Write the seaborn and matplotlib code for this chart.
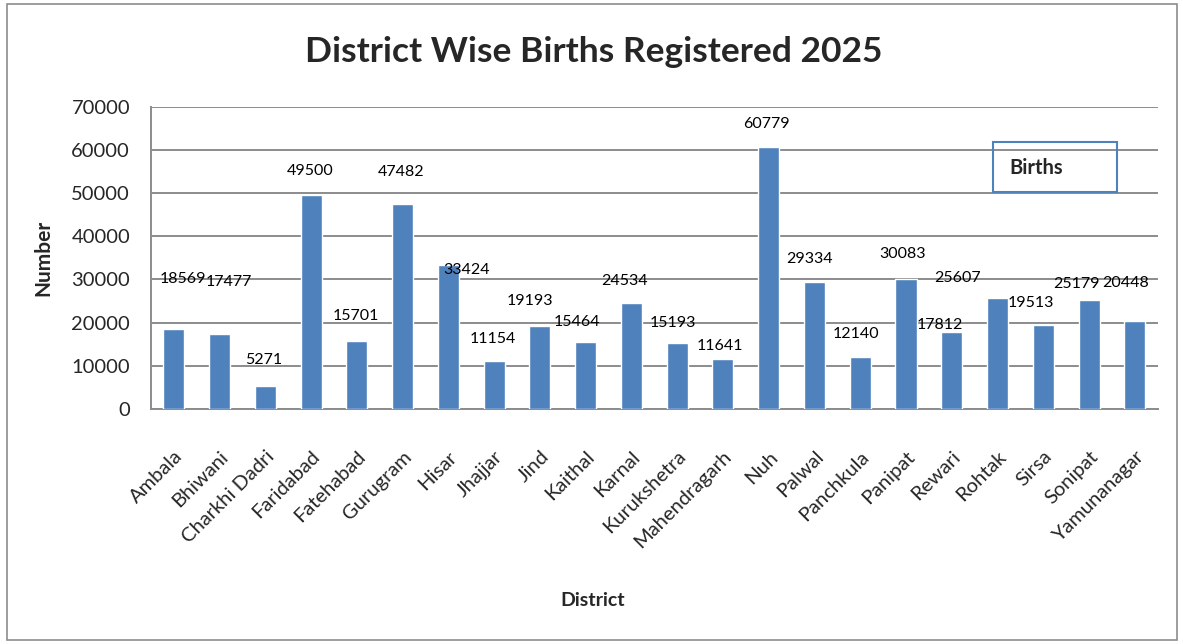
import matplotlib
matplotlib.use("Agg")
import matplotlib.pyplot as plt
import seaborn as sns
import pandas as pd
from matplotlib.patches import Rectangle

districts = ["Ambala", "Bhiwani", "Charkhi Dadri", "Faridabad", "Fatehabad", "Gurugram",
             "Hisar", "Jhajjar", "Jind", "Kaithal", "Karnal", "Kurukshetra", "Mahendragarh",
             "Nuh", "Palwal", "Panchkula", "Panipat", "Rewari", "Rohtak", "Sirsa", "Sonipat",
             "Yamunanagar"]
births = [18569, 17477, 5271, 49500, 15701, 47482, 33424, 11154, 19193, 15464, 24534,
          15193, 11641, 60779, 29334, 12140, 30083, 17812, 25607, 19513, 25179, 20448]
y_ticks = [0, 10000, 20000, 30000, 40000, 50000, 60000, 70000]

# label offsets in pixels (dx, dy above bar top), as placed in the reference
label_dx = [9, 9, -2, -1, -1, -2, 18, -1, -10, -9, -7, -4, -3, -2, -5, -4, -3, -12, -40, -12, -13, -9]
label_dy = [50, 52, 26, 24, 25, 32, -5, 22, 25, 20, 22, 20, 13, 23, 23, 23, 25, 7, 20, 22, 16, 38]

sns.set_theme(style="white")
plt.rcParams['font.family'] = ['Lato', 'DejaVu Sans']

df = pd.DataFrame({"District": districts, "Births": births})

fig = plt.figure(figsize=(11.83, 6.44), dpi=100)
ax = fig.add_axes([0.1276, 0.365, 0.851, 0.469])

sns.barplot(data=df, x="District", y="Births", color="#4F81BD", width=0.46,
            saturation=1, ax=ax, zorder=3)

ax.set_ylim(0, 70000)
ax.set_yticks(y_ticks)
ax.set_yticklabels([str(t) for t in y_ticks], fontsize=14.5)
ax.set_xlim(-0.5, len(districts) - 0.5)
ax.set_xticks(range(len(districts)))
ax.set_xticklabels(districts, rotation=45, ha="right", rotation_mode="anchor", fontsize=14.5)
ax.tick_params(axis="x", pad=28, length=0)
ax.tick_params(axis="y", pad=15, length=0)

ax.yaxis.grid(True, color="#8C8C8C", linewidth=1.4, zorder=0)
ax.set_axisbelow(True)
for s in ["top", "right"]:
    ax.spines[s].set_visible(False)
for s in ["left", "bottom"]:
    ax.spines[s].set_color("#8C8C8C")
    ax.spines[s].set_linewidth(1.4)

ax.set_xlabel("District", fontsize=14, fontweight="bold")
ax.set_ylabel("Number", fontsize=15, fontweight="bold")
ax.xaxis.set_label_coords(0.439, -0.607)
ax.yaxis.set_label_coords(-0.097, 0.5)

for i, v in enumerate(births):
    ax.annotate(str(v), xy=(i, v), xytext=(label_dx[i], label_dy[i]),
                textcoords="offset pixels", ha="center", va="center", fontsize=11.5,
                color="black")

fig.text(0.5015, 0.92, "District Wise Births Registered 2025", ha="center", va="center",
         fontsize=25.5, fontweight="bold")

# legend-like text box
fig.text(0.853, 0.739, "Births", ha="left", va="center", fontsize=14.5, fontweight="bold")
fig.patches.append(Rectangle((993 / 1183, 1 - 192 / 644), 124 / 1183, 50 / 644,
                             transform=fig.transFigure, fill=False, edgecolor="#4F81BD",
                             linewidth=1.5))

# outer chart border
fig.patches.append(Rectangle((7 / 1183, 4 / 644), 1170 / 1183, 636 / 644,
                             transform=fig.transFigure, fill=False, edgecolor="#8C8C8C",
                             linewidth=1.2))

fig.savefig("out.png", dpi=100)
